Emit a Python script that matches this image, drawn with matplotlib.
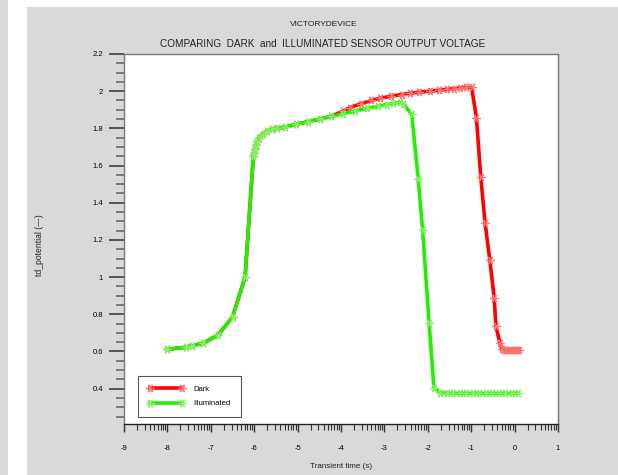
import numpy as np
import matplotlib
matplotlib.use('Agg')
import matplotlib.pyplot as plt
from matplotlib.patches import Rectangle

plt.rcParams['font.family'] = ['Liberation Sans', 'DejaVu Sans']

# illuminated sensor output
t_light = [-8.00, -7.57, -7.44, -7.17, -6.83, -6.50, -6.21, -6.02, -6.01, -5.99,
           -5.97, -5.93, -5.88, -5.80, -5.71, -5.60, -5.48, -5.30, -5.03, -4.76,
           -4.49, -4.22, -3.95, -3.68, -3.41, -3.15, -2.95, -2.80, -2.64, -2.56,
           -2.37, -2.22, -2.12, -1.97, -1.86, -1.71, -1.56, -1.41, -1.26, -1.11,
           -0.96, -0.81, -0.66, -0.51, -0.36, -0.21, -0.06, 0.07]
v_light = [0.612, 0.623, 0.630, 0.645, 0.690, 0.785, 1.000, 1.650, 1.670, 1.690,
           1.710, 1.730, 1.750, 1.770, 1.786, 1.795, 1.800, 1.807, 1.822, 1.836,
           1.850, 1.864, 1.879, 1.893, 1.907, 1.919, 1.928, 1.934, 1.940, 1.930,
           1.876, 1.526, 1.253, 0.755, 0.404, 0.378, 0.376, 0.375, 0.375, 0.375,
           0.375, 0.375, 0.375, 0.375, 0.375, 0.375, 0.375, 0.375]

# dark sensor output
t_dark = [-8.00, -7.57, -7.44, -7.17, -6.83, -6.50, -6.21, -6.02, -6.01, -5.99,
          -5.97, -5.93, -5.88, -5.80, -5.71, -5.60, -5.48, -5.30, -5.03, -4.76,
          -4.49, -4.22, -3.95, -3.79, -3.55, -3.30, -3.10,
          -2.85, -2.60, -2.40, -2.20, -1.95, -1.75, -1.55, -1.40, -1.25, -1.12,
          -0.99, -0.88, -0.78, -0.68, -0.57, -0.47, -0.43, -0.34, -0.30, -0.25,
          -0.20, -0.15, -0.10, -0.05, 0.00, 0.05, 0.10]
v_dark = [0.612, 0.623, 0.630, 0.645, 0.690, 0.785, 1.000, 1.650, 1.670, 1.690,
          1.710, 1.730, 1.750, 1.770, 1.786, 1.795, 1.800, 1.807, 1.822, 1.836,
          1.850, 1.866, 1.893, 1.912, 1.932, 1.950, 1.962,
          1.973, 1.982, 1.989, 1.995, 2.000, 2.005, 2.010, 2.014, 2.018, 2.020,
          2.020, 1.858, 1.540, 1.290, 1.090, 0.889, 0.736, 0.647, 0.615, 0.610,
          0.610, 0.610, 0.610, 0.610, 0.610, 0.610, 0.610]

x_ticks = [-9, -8, -7, -6, -5, -4, -3, -2, -1, 0, 1]
y_ticks = [0.4, 0.6, 0.8, 1.0, 1.2, 1.4, 1.6, 1.8, 2.0, 2.2]
y_labels = ['0.4', '0.6', '0.8', '1', '1.2', '1.4', '1.6', '1.8', '2', '2.2']

gray = '#d9d9d9'
fig = plt.figure(figsize=(6.18, 4.75), dpi=100, facecolor='white')
# window frame background
fig.patches.append(Rectangle((0, 0), 8 / 618, 1, transform=fig.transFigure,
                             facecolor=gray, edgecolor='none', zorder=-2))
fig.patches.append(Rectangle((27 / 618, 0), 1, 1 - 7 / 475, transform=fig.transFigure,
                             facecolor=gray, edgecolor='none', zorder=-2))

ax = fig.add_axes([124 / 618, 51 / 475, 434 / 618, 370 / 475])
ax.set_facecolor('white')

star = (6, 2, 90)
ax.plot(t_dark, v_dark, color='#ff0000', lw=2.6, marker=star, ms=6,
        mec='#ff7070', mew=0.9, label='Dark', zorder=2)
ax.plot(t_light, v_light, color='#22ee00', lw=2.6, marker=star, ms=6,
        mec='#80f060', mew=0.9, label='Illuminated', zorder=3)

ax.set_xlim(-9, 1)
ax.set_ylim(0.21, 2.2)
ax.set_xticks(x_ticks)
ax.set_xticklabels([str(v) for v in x_ticks])
ax.set_yticks(y_ticks)
ax.set_yticklabels(y_labels)

# log-style minor ticks between the integer times
minor_x = [m + np.log10(k) for m in x_ticks[:-1] for k in range(2, 10)]
ax.set_xticks(minor_x, minor=True)
ax.set_yticks(np.arange(0.25, 2.2, 0.05), minor=True)

ax.tick_params(axis='y', which='major', length=11, width=1.4, color='#555555',
               labelsize=5.5, pad=4)
ax.tick_params(axis='y', which='minor', length=6, width=1.2, color='#666666')
ax.tick_params(axis='x', which='major', length=6, width=1.0, color='#333333',
               labelsize=5.5, pad=9)
ax.tick_params(axis='x', which='minor', length=4, width=0.8, color='#333333')
for s in ax.spines.values():
    s.set_color('#777777')
    s.set_linewidth(1.0)
ax.spines['bottom'].set_color('#222222')

leg = ax.legend(loc='lower left', bbox_to_anchor=(10 / 434, 3 / 370), numpoints=2,
                fontsize=5.5, fancybox=False, framealpha=1, edgecolor='#555555',
                handlelength=4.8, borderpad=1.3, labelspacing=0.9,
                handletextpad=1.2, borderaxespad=0.5)
leg.get_frame().set_linewidth(0.8)

fig.text(324 / 618, 1 - 25 / 475, 'VICTORYDEVICE', ha='center', va='center',
         fontsize=6.0, color='#222222')
fig.text(323 / 618, 1 - 44 / 475, 'COMPARING  DARK  and  ILLUMINATED SENSOR OUTPUT VOLTAGE',
         ha='center', va='center', fontsize=7.2, color='#222222')
fig.text(341 / 618, 1 - 467 / 475, 'Transient time (s)', ha='center', va='center',
         fontsize=5.8, color='#222222')
fig.text(40 / 618, 1 - 245 / 475, 'td_potential (---)', ha='center', va='center',
         rotation=90, fontsize=6.2, color='#222222')

fig.savefig('out.png', dpi=100, facecolor=fig.get_facecolor())
